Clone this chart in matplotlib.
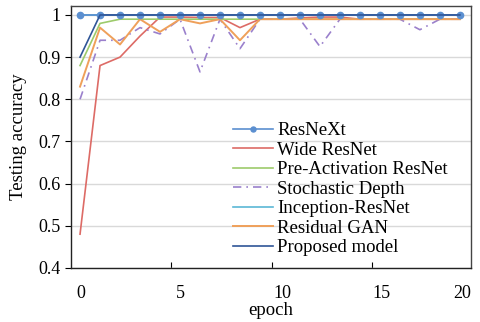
import matplotlib
matplotlib.use("Agg")
import matplotlib.pyplot as plt
import numpy as np

EPOCHS = np.arange(20)
XTICK_LABELS = ["0", "5", "10", "15", "20"]

RESNEXT = [1.0] * 20
WIDE_RESNET = [0.48, 0.88, 0.90, 0.95, 0.995, 0.995, 0.994, 0.994, 0.97, 0.99,
               0.99, 0.993, 0.995, 0.995, 0.99, 0.99, 0.99, 0.99, 0.99, 0.99]
PRE_ACT = [0.88, 0.98, 0.99, 0.99, 0.99, 0.99, 0.99, 0.99, 0.99, 0.99,
           0.99, 0.99, 0.99, 0.99, 0.99, 0.99, 0.99, 0.99, 0.99, 0.99]
STOCHASTIC = [0.80, 0.94, 0.94, 0.97, 0.955, 0.99, 0.865, 0.99, 0.92, 0.99,
              0.99, 0.99, 0.925, 0.99, 0.99, 0.99, 0.99, 0.965, 0.99, 0.99]
INCEPTION = [1.0] * 20
RESIDUAL_GAN = [0.83, 0.97, 0.93, 0.99, 0.96, 0.99, 0.98, 0.99, 0.94, 0.99,
                0.99, 0.99, 0.99, 0.99, 0.99, 0.99, 0.99, 0.99, 0.99, 0.99]
PROPOSED = [0.90] + [1.0] * 19

plt.rcParams.update({
    "font.family": ["Liberation Serif", "DejaVu Serif"],
    "font.size": 13,
})

fig = plt.figure(figsize=(4.8, 3.22), dpi=100)
ax = fig.add_axes([0.148, 0.168, 0.833, 0.813])

ax.plot(EPOCHS, INCEPTION, color="#5BB8D6", lw=1.2, label="Inception-ResNet", zorder=2)
ax.plot(EPOCHS, WIDE_RESNET, color="#DD6B66", lw=1.2, label="Wide ResNet", zorder=3)
ax.plot(EPOCHS, PRE_ACT, color="#9DCB6B", lw=1.2, label="Pre-Activation ResNet", zorder=3)
ax.plot(EPOCHS, STOCHASTIC, color="#9A80CC", lw=1.2, ls=(0, (5, 3, 1, 3)),
        label="Stochastic Depth", zorder=3)
ax.plot(EPOCHS, RESIDUAL_GAN, color="#EFA05A", lw=1.4, label="Residual GAN", zorder=4)
ax.plot(EPOCHS, RESNEXT, color="#5B8FD0", lw=1.2, marker="o", ms=4.5,
        label="ResNeXt", zorder=5)
ax.plot(EPOCHS, PROPOSED, color="#2F5597", lw=1.2, label="Proposed model", zorder=5)

ax.set_xlim(-0.45, 19.55)
ax.set_ylim(0.4, 1.021)

# tick marks between category groups, labels at category centres
ax.set_xticks([4.55, 9.6, 14.6])
ax.set_xticklabels([])
ax.tick_params(axis="x", direction="in", length=4, width=0.8)
ax.set_xticks([0.05, 5.0, 10.1, 15.1, 19.1], minor=True)
ax.set_xticklabels(XTICK_LABELS, minor=True)
ax.tick_params(axis="x", which="minor", length=0, pad=12)

ax.set_yticks(np.arange(0.4, 1.01, 0.1))
ax.set_yticklabels(["0.4", "0.5", "0.6", "0.7", "0.8", "0.9", "1"])
ax.tick_params(axis="y", direction="out", length=4, width=0.8)
ax.grid(axis="y", color="#D9D9D9", lw=1.0)
ax.set_axisbelow(True)

for side in ["left", "bottom"]:
    ax.spines[side].set_color("#222222")
    ax.spines[side].set_linewidth(1.0)
for side in ["top", "right"]:
    ax.spines[side].set_color("#444444")
    ax.spines[side].set_linewidth(1.0)

ax.set_xlabel("epoch", fontsize=13.5, labelpad=0)
ax.set_ylabel("Testing accuracy", fontsize=13.5, labelpad=8)

order = ["ResNeXt", "Wide ResNet", "Pre-Activation ResNet", "Stochastic Depth",
         "Inception-ResNet", "Residual GAN", "Proposed model"]
handles, labels = ax.get_legend_handles_labels()
lookup = dict(zip(labels, handles))
ax.legend([lookup[k] for k in order], order, loc="upper left",
          bbox_to_anchor=(233 / 480, 1 - 122 / 322), bbox_transform=fig.transFigure,
          frameon=False, fontsize=13.5, handlelength=2.13, handletextpad=0.22,
          labelspacing=0.13, borderpad=0, borderaxespad=0, markerscale=0.8)

fig.savefig("out.png", dpi=100)
